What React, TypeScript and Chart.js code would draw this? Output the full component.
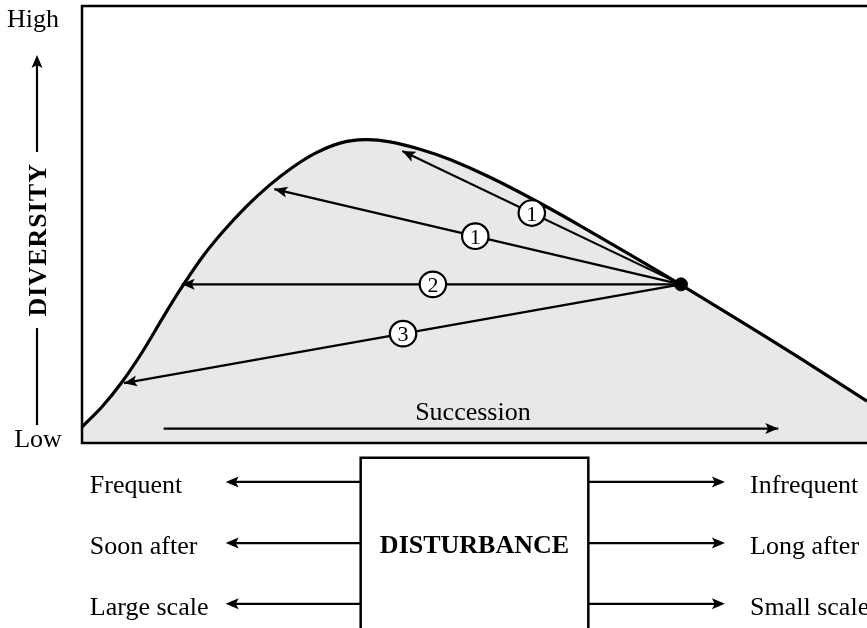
import React, { useEffect, useRef } from "react";
import { Chart, registerables } from "chart.js";

Chart.register(...registerables);

// Diversity curve along succession (time since disturbance, 0-100; diversity 0-100)
const successionTime = [0, 2.55, 5.1, 7.64, 10.19, 12.36, 15.29, 17.83, 20.89, 23.82, 26.75, 29.68, 32.87, 36.05, 39.24, 43.06, 46.88, 51.97, 57.96, 63.44, 69.81, 76.31, 83.82, 91.46, 100];
const diversity = [3.66, 8.3, 13.96, 20.71, 28.35, 34.69, 42.45, 48.1, 54.03, 58.9, 62.98, 66.27, 68.63, 69.41, 68.92, 67.23, 64.85, 60.8, 55.26, 49.75, 43.11, 36.18, 27.96, 19.41, 9.59];

// Current community state (black dot)
const stateX = 76.3;
const stateY = 36.3;

// Disturbance pathways (arrows from the state back along the curve)
const pathwayLabels = ["1", "1", "2", "3"];
const pathwayTargetX = [40.8, 24.5, 12.7, 5.35];
const pathwayTargetY = [66.8, 58.1, 36.3, 13.7];
const pathwayLabelX = [57.3, 50.1, 44.7, 40.9];

// Succession arrow
const successionArrowX = [10.4, 88.7];
const successionArrowY = 3.3;
const successionLabel = "Succession";
const successionLabelX = 49.8;

// Y-axis annotation
const yHighLabel = "High";
const yLowLabel = "Low";
const yAxisTitle = "DIVERSITY";

// Disturbance box below the plot
const disturbanceLabel = "DISTURBANCE";
const leftLabels = ["Frequent", "Soon after", "Large scale"];
const rightLabels = ["Infrequent", "Long after", "Small scale"];
const rowY = [-8.9, -22.9, -36.8];
const boxX = [35.5, 64.5];
const boxTopY = -3.4;
const leftTipX = 18.3;
const rightTipX = 81.9;
const leftLabelX = 1.0;
const rightLabelX = 85.1;

const SERIF = "'Liberation Serif', 'Times New Roman', serif";

function arrowHead(ctx: CanvasRenderingContext2D, fx: number, fy: number, tx: number, ty: number, len = 13, hw = 5.5) {
  const dx = tx - fx;
  const dy = ty - fy;
  const d = Math.hypot(dx, dy) || 1;
  const ux = dx / d;
  const uy = dy / d;
  const bx = tx - ux * len;
  const by = ty - uy * len;
  ctx.beginPath();
  ctx.moveTo(tx, ty);
  ctx.lineTo(bx - uy * hw, by + ux * hw);
  ctx.lineTo(tx - ux * len * 0.78, ty - uy * len * 0.78);
  ctx.lineTo(bx + uy * hw, by - ux * hw);
  ctx.closePath();
  ctx.fillStyle = "#000";
  ctx.fill();
}

function line(ctx: CanvasRenderingContext2D, x1: number, y1: number, x2: number, y2: number, w = 2.2) {
  ctx.beginPath();
  ctx.moveTo(x1, y1);
  ctx.lineTo(x2, y2);
  ctx.lineWidth = w;
  ctx.strokeStyle = "#000";
  ctx.stroke();
}

const diagramPlugin = {
  id: "diagram",
  afterDatasetsDraw(chart: any) {
    const ctx: CanvasRenderingContext2D = chart.ctx;
    const xs = chart.scales.x;
    const ys = chart.scales.y;
    const px = (v: number) => xs.getPixelForValue(v);
    const py = (v: number) => ys.getPixelForValue(v);
    const area = chart.chartArea;
    ctx.save();

    // plot frame (top, left, bottom)
    ctx.beginPath();
    ctx.moveTo(area.right + 2, area.top);
    ctx.lineTo(area.left, area.top);
    ctx.lineTo(area.left, area.bottom);
    ctx.lineTo(area.right + 2, area.bottom);
    ctx.lineWidth = 2.5;
    ctx.strokeStyle = "#000";
    ctx.stroke();

    // arrow heads for pathways
    pathwayTargetX.forEach((tx, i) => {
      arrowHead(ctx, px(stateX), py(stateY), px(tx), py(pathwayTargetY[i]));
    });
    // succession arrow head
    arrowHead(ctx, px(successionArrowX[0]), py(successionArrowY), px(successionArrowX[1]), py(successionArrowY));

    // pathway circles
    pathwayLabels.forEach((lab, i) => {
      const t = (stateX - pathwayLabelX[i]) / (stateX - pathwayTargetX[i]);
      const ly = stateY + t * (pathwayTargetY[i] - stateY);
      const cx = px(pathwayLabelX[i]);
      const cy = py(ly);
      ctx.beginPath();
      ctx.ellipse(cx, cy, 13.2, 12.8, 0, 0, Math.PI * 2);
      ctx.fillStyle = "#fff";
      ctx.fill();
      ctx.lineWidth = 2.2;
      ctx.strokeStyle = "#000";
      ctx.stroke();
      ctx.fillStyle = "#000";
      ctx.font = `22px ${SERIF}`;
      ctx.textAlign = "center";
      ctx.textBaseline = "alphabetic";
      ctx.fillText(lab, cx, cy + 7.5);
    });

    // succession label
    ctx.font = `26px ${SERIF}`;
    ctx.textAlign = "center";
    ctx.fillStyle = "#000";
    ctx.fillText(successionLabel, px(successionLabelX), py(successionArrowY) - 9);
    ctx.restore();
  },
  afterDraw(chart: any) {
    const ctx: CanvasRenderingContext2D = chart.ctx;
    const xs = chart.scales.x;
    const ys = chart.scales.y;
    const px = (v: number) => xs.getPixelForValue(v);
    const py = (v: number) => ys.getPixelForValue(v);
    ctx.save();
    ctx.fillStyle = "#000";

    // Y axis annotation
    const ax = 37;
    ctx.font = `26px ${SERIF}`;
    ctx.textAlign = "center";
    ctx.textBaseline = "alphabetic";
    ctx.fillText(yHighLabel, 33, py(100) + 21);
    ctx.fillText(yLowLabel, 38, py(0) + 4);
    line(ctx, ax, py(66.6), ax, py(88.8) + 8);
    arrowHead(ctx, ax, py(66.6), ax, py(88.8), 13, 5.5);
    line(ctx, ax, py(26.3), ax, py(4.1));
    ctx.save();
    ctx.translate(ax + 9, py(46.5));
    ctx.rotate(-Math.PI / 2);
    ctx.font = `bold 26px ${SERIF}`;
    (ctx as any).letterSpacing = "1px";
    ctx.textAlign = "center";
    ctx.fillText(yAxisTitle, 0, 0);
    ctx.restore();

    // Disturbance box
    const bl = px(boxX[0]);
    const br = px(boxX[1]);
    const bt = py(boxTopY);
    ctx.beginPath();
    ctx.moveTo(bl, chart.height + 5);
    ctx.lineTo(bl, bt);
    ctx.lineTo(br, bt);
    ctx.lineTo(br, chart.height + 5);
    ctx.lineWidth = 2.5;
    ctx.strokeStyle = "#000";
    ctx.stroke();
    ctx.font = `bold 26px ${SERIF}`;
    ctx.textAlign = "center";
    ctx.fillText(disturbanceLabel, (bl + br) / 2, py(rowY[1]) + 10);

    ctx.font = `26px ${SERIF}`;
    rowY.forEach((ry, i) => {
      const y = py(ry);
      line(ctx, bl, y, px(leftTipX) + 6, y);
      arrowHead(ctx, bl, y, px(leftTipX), y);
      line(ctx, br, y, px(rightTipX) - 6, y);
      arrowHead(ctx, br, y, px(rightTipX), y);
      ctx.textAlign = "left";
      ctx.fillText(leftLabels[i], px(leftLabelX), y + 11);
      ctx.fillText(rightLabels[i], px(rightLabelX), y + 11);
    });
    ctx.restore();
  },
};

export default function App() {
  const ref = useRef<HTMLCanvasElement | null>(null);
  useEffect(() => {
    document.body.style.margin = "0";
    if (!ref.current) return;
    const curve = successionTime.map((x, i) => ({ x, y: diversity[i] }));
    const pathwayDatasets = pathwayTargetX.map((tx, i) => ({
      data: [
        { x: stateX, y: stateY },
        { x: tx, y: pathwayTargetY[i] },
      ],
      showLine: true,
      borderColor: "#000",
      borderWidth: 2.2,
      pointRadius: 0,
      fill: false,
      order: 2,
    }));
    const chart = new Chart(ref.current, {
      type: "scatter",
      data: {
        datasets: [
          {
            data: [{ x: stateX, y: stateY }],
            pointRadius: 6.5,
            pointBackgroundColor: "#000",
            pointBorderColor: "#000",
            showLine: false,
            order: 0,
          },
          {
            data: curve,
            showLine: true,
            borderColor: "#000",
            borderWidth: 3.2,
            pointRadius: 0,
            tension: 0.3,
            fill: "start",
            backgroundColor: "#e8e8e8",
            order: 1,
          },
          ...pathwayDatasets,
          {
            data: [
              { x: successionArrowX[0], y: successionArrowY },
              { x: successionArrowX[1], y: successionArrowY },
            ],
            showLine: true,
            borderColor: "#000",
            borderWidth: 2.2,
            pointRadius: 0,
            fill: false,
            order: 3,
          },
        ] as any,
      },
      options: {
        animation: false,
        responsive: false,
        devicePixelRatio: 1,
        events: [],
        layout: { autoPadding: false, padding: { left: 82, right: 0, top: 6, bottom: 185 } },
        scales: {
          x: { type: "linear", min: 0, max: 100, display: false },
          y: { type: "linear", min: 0, max: 100, display: false },
        },
        plugins: {
          legend: { display: false },
          tooltip: { enabled: false },
          filler: { drawTime: "beforeDatasetsDraw" },
        } as any,
      } as any,
      plugins: [diagramPlugin],
    });
    return () => chart.destroy();
  }, []);
  return (
    <div style={{ position: "absolute", left: 0, top: 0, width: 867, height: 628, background: "#fff" }}>
      <canvas ref={ref} width={867} height={628} />
    </div>
  );
}
